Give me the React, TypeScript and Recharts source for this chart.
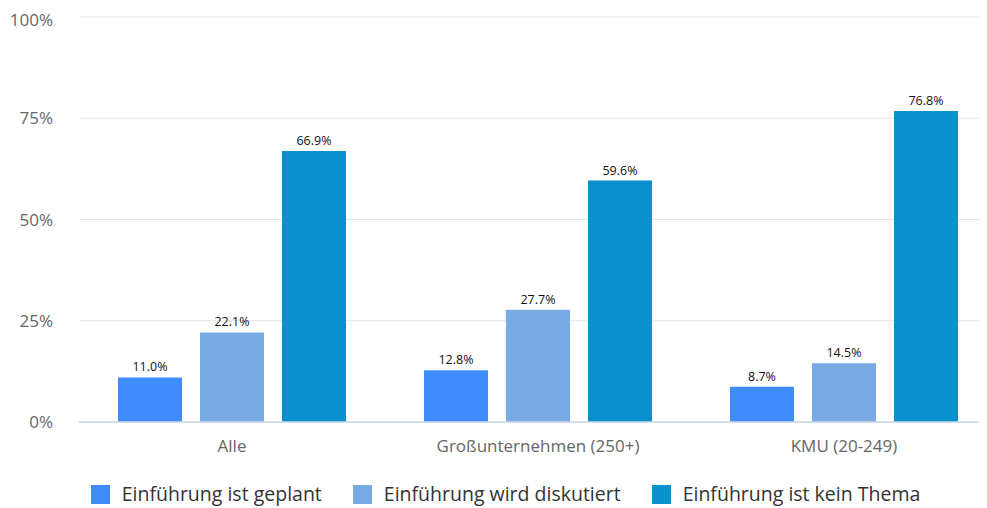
import { BarChart, Bar, XAxis, YAxis, CartesianGrid, Legend, LabelList } from "recharts";

const categories = ["Alle", "Großunternehmen (250+)", "KMU (20-249)"];
const geplant = [11.0, 12.8, 8.7];
const diskutiert = [22.1, 27.7, 14.5];
const keinThema = [66.9, 59.6, 76.8];
const yTicks = [0, 25, 50, 75, 100];

const series = [
  { key: "geplant", name: "Einführung ist geplant", color: "#3f8cff" },
  { key: "diskutiert", name: "Einführung wird diskutiert", color: "#78aae3" },
  { key: "keinThema", name: "Einführung ist kein Thema", color: "#0a90cd" },
];

const data = categories.map((name, i) => ({
  name,
  geplant: geplant[i],
  diskutiert: diskutiert[i],
  keinThema: keinThema[i],
}));

const font = "'Open Sans', sans-serif";

function LegendRow() {
  return (
    <div
      style={{
        height: 46,
        boxSizing: "border-box",
        paddingTop: 22,
        paddingLeft: 6,
        display: "flex",
        justifyContent: "center",
        gap: 31,
        fontFamily: font,
        fontSize: 19.5,
        color: "#333",
      }}
    >
      {series.map((s) => (
        <div key={s.key} style={{ display: "flex", alignItems: "center", height: 20 }}>
          <span style={{ width: 19, height: 19, background: s.color, marginRight: 12, display: "inline-block" }} />
          <span style={{ lineHeight: "20px", whiteSpace: "nowrap" }}>{s.name}</span>
        </div>
      ))}
    </div>
  );
}

export default function App() {
  return (
    <div style={{ width: 979, height: 500, overflow: "hidden" }}>
      <BarChart
        width={989}
        height={500}
        data={data}
        margin={{ top: 9, right: 0, bottom: 0, left: 0 }}
        barSize={64}
        barGap={18}
      >
        <CartesianGrid vertical={false} stroke="#e6e6e6" />
        <XAxis
          dataKey="name"
          height={40}
          tickLine={false}
          tickSize={0}
          tickMargin={18}
          axisLine={{ stroke: "#ccd6eb", strokeWidth: 1.5 }}
          tick={{ fill: "#666", fontSize: 17, fontFamily: font }}
        />
        <YAxis
          width={71}
          domain={[0, 100]}
          ticks={yTicks}
          axisLine={false}
          tickLine={false}
          tickSize={0}
          tickMargin={26}
          tickFormatter={(v) => `${v}%`}
          tick={{ fill: "#666", fontSize: 17, fontFamily: font }}
        />
        <Legend verticalAlign="bottom" content={() => <LegendRow />} />
        {series.map((s) => (
          <Bar key={s.key} dataKey={s.key} name={s.name} fill={s.color} isAnimationActive={false}>
            <LabelList
              dataKey={s.key}
              position="top"
              offset={6}
              formatter={(v: any) => `${Number(v).toFixed(1)}%`}
              style={{ fill: "#111", fontSize: 12.5, fontWeight: 500, fontFamily: font }}
            />
          </Bar>
        ))}
      </BarChart>
    </div>
  );
}
